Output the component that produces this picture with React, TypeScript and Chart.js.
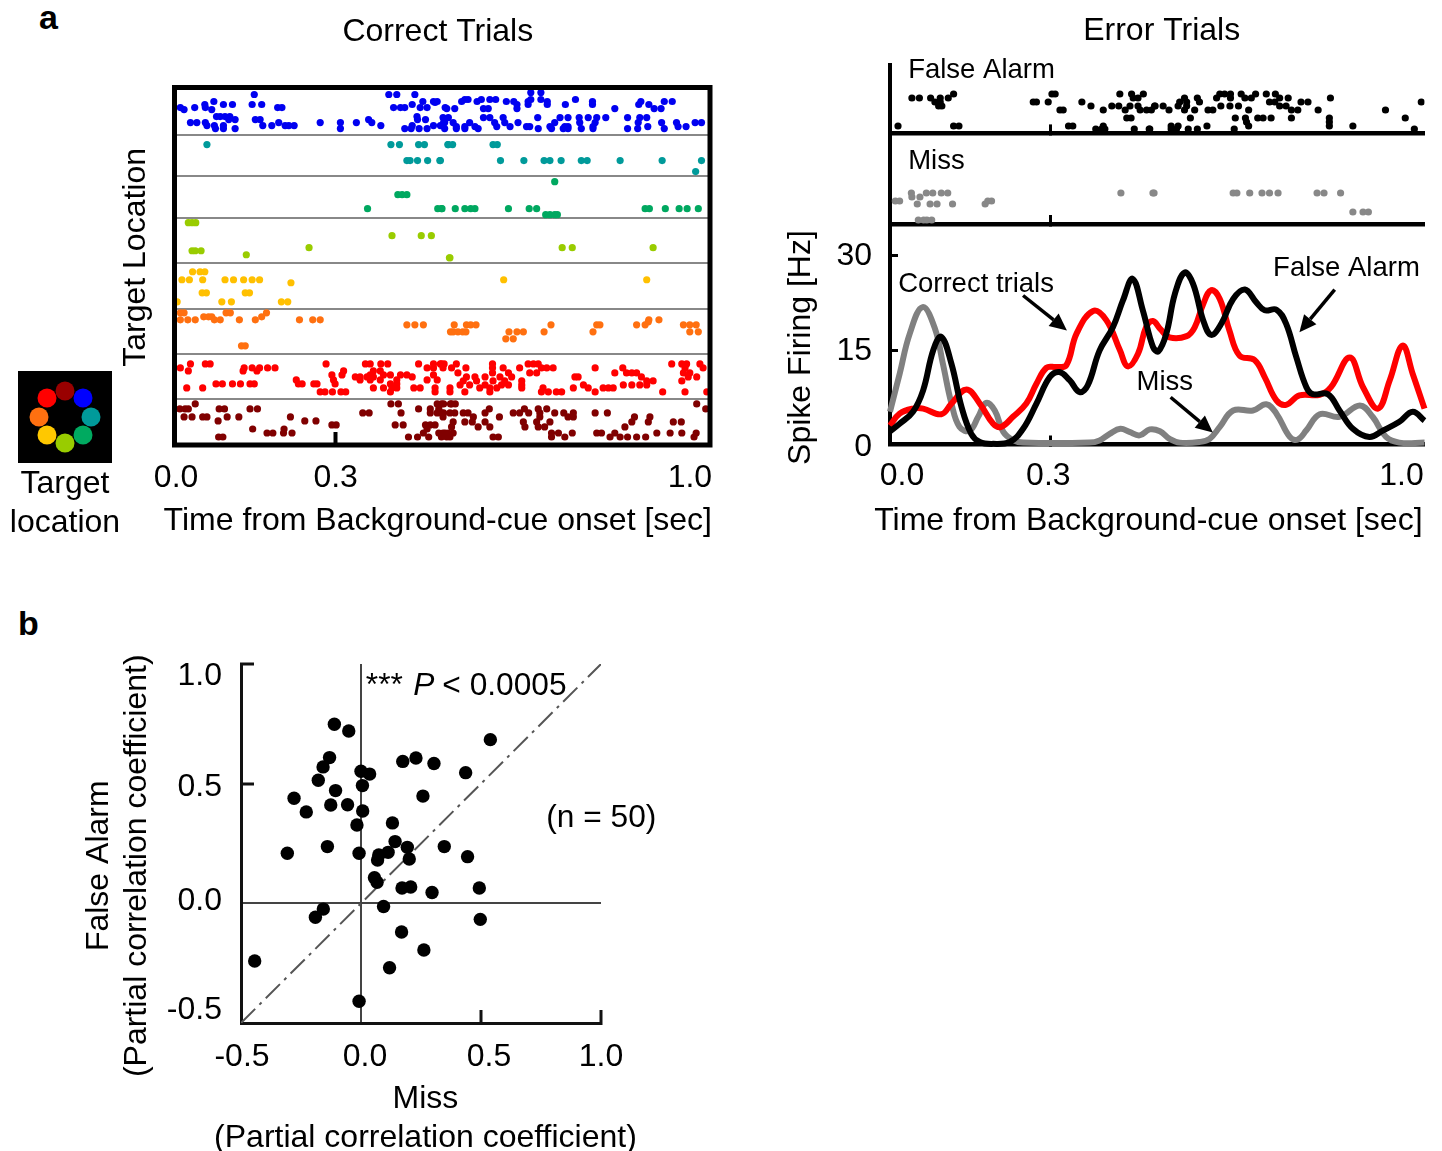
import React, { useEffect, useRef } from "react";
import { Chart, registerables } from "chart.js";

Chart.register(...registerables);

const FONT = "Liberation Sans";
const BIG = 32;
const SMALL = 27.5;
Chart.defaults.font.family = FONT;
Chart.defaults.font.size = BIG;
Chart.defaults.color = "#000";

// ---------- Panel a: correct trials raster. Each row: [trial row, spike times in ms...]
const rasterSeparators = [47, 88, 130, 175, 221, 266, 311];
const blueRows = [
  [7, 147, 400, 415, 449], [14, 71, 464, 484, 491], [15, 487],
  [17, 54, 89, 106, 143, 161, 444], [20, 8, 35, 55, 191, 199, 409, 422, 430, 459, 472, 506], [22, 15, 67],
  [29, 76, 83, 92, 101, 453], [32, 99, 111, 149, 158, 454, 469, 362],
  [35, 27, 39, 55, 193, 271, 309, 339, 368, 503], [38, 58, 72, 89, 163, 180, 205, 212, 222, 385, 444, 484, 497],
  [41, 74, 89, 111, 309, 430, 442, 457, 472],
  [5, 667, 686], [12, 543, 549, 574, 590, 601, 667, 686, 751],
  [14, 537, 566, 621, 635, 662, 698, 783, 874, 918, 933], [17, 641, 662, 698, 732, 783, 870, 889],
  [21, 509, 524, 578, 587, 641, 825, 899, 912],
  [30, 502, 512, 578, 590, 615, 680, 722, 737, 758, 775, 791, 808, 849, 872, 885],
  [35, 505, 521, 552, 599, 618, 643, 712, 759, 788, 869, 913, 941, 976, 988],
  [39, 527, 543, 562, 603, 628, 659, 665, 703, 731, 737, 784, 887, 944, 959],
  [41, 505, 527, 543, 568, 681, 706, 728, 737, 762, 784, 849, 868, 918],
];
const tealRows = [
  [57, 58, 404, 420, 456, 467, 511, 512, 520, 596, 604],
  [73, 434, 440, 454, 473, 497, 496, 610, 654, 692, 703, 724, 762, 773, 835, 914, 988],
  [84, 977],
];
const greenRows = [
  [94, 712], [107, 417, 425, 434],
  [121, 360, 492, 500, 499, 525, 543, 554, 562, 625, 664, 678, 882, 890, 920, 946, 961, 982],
  [127, 695, 703, 712, 717],
];
const limeRows = [
  [135, 23, 30, 37], [148, 406, 461, 480], [160, 250, 726, 745, 897],
  [163, 30, 36, 47], [167, 132], [170, 514, 515],
];
const yellowRows = [
  [184, 31, 45, 54], [192, 11, 25, 50, 92, 108, 127, 143, 157, 616, 885], [195, 216],
  [205, 49, 57, 130, 138], [214, 2, 86, 104, 198, 210],
];
const orangeRows = [
  [225, 8, 15, 94, 102, 170], [229, 52, 61, 67, 161], [232, 8, 22, 36, 72, 83, 119, 149, 232, 257, 271, 889, 908],
  [234, 888], [237, 434, 449, 465, 523, 546, 554, 564, 705, 791, 797, 866, 882, 954, 966, 978],
  [244, 516, 521, 530, 539, 545, 626, 641, 653, 692, 784, 966, 982], [251, 620, 634], [258, 123, 130],
];
const redRows = [
  [276, 27, 55, 64, 282, 356, 365, 385, 398, 456, 484, 497, 504], [280, 8, 128, 143, 157, 172, 186, 472, 484],
  [283, 23, 126, 152, 315, 371, 384], [287, 293, 312, 365, 390, 403, 422, 434, 484],
  [289, 337, 346, 359, 371, 444], [292, 226, 296, 346, 365, 384, 415, 472, 491],
  [296, 75, 87, 106, 121, 139, 147, 230, 237, 259, 265, 299, 415, 403],
  [300, 20, 50, 371, 390, 406, 415, 447, 459, 487], [304, 271, 280, 294, 310, 319, 487, 403],
  [276, 499, 527, 595, 662, 672, 681, 932, 951, 960, 985],
  [280, 502, 518, 545, 595, 615, 646, 687, 697, 709, 788, 840, 957, 991],
  [285, 530, 595, 625, 665, 678, 825, 847, 857, 866, 954, 966],
  [289, 546, 562, 581, 609, 631, 750, 756, 875, 979, 963], [293, 540, 565, 596, 618, 650, 885, 897, 951],
  [297, 534, 552, 581, 612, 625, 650, 766, 841, 857, 872, 885],
  [300, 515, 571, 590, 603, 650, 690, 747, 775, 803, 813, 822],
  [304, 515, 543, 590, 687, 700, 715, 725, 788, 915, 957, 998],
];
const darkRedRows = [
  [316, 36, 404, 418, 491, 503, 516], [321, 7, 17, 23, 81, 91, 139, 153, 456, 478, 494],
  [325, 351, 363, 423, 478, 491, 503], [329, 15, 30, 50, 58, 96, 118, 215], [333, 79, 242, 263],
  [337, 293, 301, 412, 427, 469, 478, 487], [341, 144, 203, 472], [345, 171, 182, 202, 218, 465, 494, 506, 512],
  [349, 80, 88, 437, 454, 475, 509],
  [316, 499, 518, 525, 979], [321, 589, 655, 681, 697, 996],
  [325, 499, 515, 524, 540, 549, 581, 634, 646, 663, 684, 712, 729, 747, 788, 811],
  [329, 502, 559, 608, 684, 737, 747, 862, 891], [334, 521, 543, 557, 581, 653, 678, 703, 857, 888, 935, 950],
  [339, 518, 568, 590, 656, 681, 693, 844],
  [345, 502, 521, 706, 719, 745, 791, 800, 825, 904, 929, 951, 978],
  [349, 499, 515, 596, 606, 706, 731, 816, 835, 849, 866, 883, 974],
];
const rasterSeries = [
  { rows: blueRows, color: "#0000f0" }, { rows: tealRows, color: "#009a9a" }, { rows: greenRows, color: "#00a860" },
  { rows: limeRows, color: "#99cc00" }, { rows: yellowRows, color: "#ffc000" }, { rows: orangeRows, color: "#ff7010" },
  { rows: redRows, color: "#ff0000" }, { rows: darkRedRows, color: "#800000" },
];

// ---------- Target wheel
const wheelX = [0, 18, 26, 18, 0, -18, -26, -18];
const wheelY = [26, 19, 0, -18, -26, -18, 0, 19];
const wheelColors = ["#990000", "#0000ff", "#009a9a", "#00aa60", "#99cc00", "#ffc800", "#ff7010", "#ff0000"];

// ---------- Panel a: error trials rasters
const falseAlarmRows = [
  [29, 119, 452, 474, 430, 309, 303, 617, 626, 637, 657, 684, 704, 721],
  [33, 41, 55, 76, 94, 109, 455, 464, 551, 575, 611, 637, 664, 676, 729, 745, 824],
  [37, 84, 94, 268, 274, 296, 359, 555, 579, 542, 710, 720, 769, 782, 994],
  [41, 91, 97, 376, 415, 428, 449, 464, 496, 511, 495, 539, 555, 619, 636, 652, 729, 741],
  [45, 324, 318, 399, 440, 468, 480, 489, 522, 551, 570, 595, 604, 671, 751, 763, 801, 927],
  [53, 443, 451, 562, 646, 665, 688, 698, 713, 751, 822, 964],
  [57, 667, 822],
  [61, 15, 119, 129, 334, 342, 399, 526, 539, 593, 671, 822, 866],
  [64, 385, 396, 402, 457, 485, 486, 526, 536, 558, 575, 644, 981],
];
const missRows = [
  [60, 40, 68, 80, 96, 108, 432, 494, 492, 642, 649, 673, 696, 710, 726, 799, 812, 843],
  [64, 41, 56], [68, 10, 18, 190, 183], [71, 51, 75, 88, 117, 178],
  [79, 866, 885, 895], [87, 53, 63, 69, 78],
];

// ---------- Panel a: spike density curves
const greyTimes = [0, 18, 37, 61, 84, 99, 115, 130, 149, 165, 180, 196, 212, 230, 249, 373, 392, 411, 431, 448, 467, 486, 505, 523, 542, 579, 598, 617, 642, 679, 704, 723, 748, 763, 779, 804, 841, 879, 903, 928, 953, 1000];
const greyRates = [5.2, 11.2, 17.6, 21.8, 18.4, 12.8, 6.5, 2.8, 2.2, 4.4, 6.6, 5.4, 2, 0.7, 0.3, 0.3, 0.65, 1.7, 2.5, 2, 1.45, 2.4, 2.1, 0.9, 0.3, 0.4, 0.9, 2.8, 5.4, 5.4, 6.4, 4.9, 1.2, 0.8, 2.25, 4.8, 4.4, 6.2, 4.4, 1.2, 0.3, 0.3];
const redTimes = [0, 18, 43, 62, 96, 115, 143, 168, 193, 208, 230, 255, 274, 293, 311, 330, 349, 380, 405, 430, 445, 464, 479, 492, 505, 523, 555, 570, 586, 601, 617, 635, 654, 682, 701, 723, 741, 766, 804, 825, 860, 885, 913, 935, 959, 978, 1000];
const redRates = [3, 4.9, 5.7, 5.7, 4.8, 6.5, 8.75, 6.5, 3.3, 2.8, 4.4, 6.5, 9.65, 12.2, 12.3, 12.6, 17.6, 21.2, 19.7, 15, 12.4, 14.4, 18.6, 19.6, 18.4, 17, 17.2, 18.6, 22.3, 24.5, 23.1, 18.1, 14.1, 13.4, 10.7, 7, 6.3, 7.8, 7.9, 9.1, 13.8, 9.1, 5.7, 10.2, 15.7, 11.2, 5.7];
const blackTimes = [0, 18, 43, 62, 81, 96, 115, 134, 152, 168, 193, 224, 249, 274, 299, 317, 336, 355, 370, 392, 417, 436, 454, 473, 492, 502, 517, 533, 551, 567, 586, 601, 620, 642, 664, 685, 701, 723, 741, 760, 779, 791, 819, 841, 866, 897, 922, 953, 978, 1000];
const blackRates = [2.1, 3.3, 5.2, 8.6, 15, 17.1, 12.8, 5.9, 1.7, 0.4, 0.1, 0.4, 2.5, 6.5, 10.7, 11.5, 10.2, 8.3, 9.4, 14.9, 18.6, 22.9, 26.3, 21.3, 15.5, 14.8, 17.6, 23.9, 27.3, 25.5, 19.7, 17.4, 19.2, 23.1, 24.6, 22.6, 21.3, 21.4, 19.2, 13.9, 9.1, 8, 8, 5.4, 2.5, 1.2, 2.2, 3.6, 5.2, 3.8];

// ---------- Panel b
const missCoef = [-0.111, -0.051, 0.539, -0.131, -0.158, 0.174, 0.229, 0.304, 0.436, 0, 0.036, -0.178, 0.006, -0.106, -0.279, 0.258, -0.126, -0.056, -0.228, 0.007, -0.017, 0.131, 0.142, -0.307, -0.14, -0.008, 0.074, 0.069, 0.113, 0.193, 0.201, 0.347, 0.444, 0.056, 0.067, 0.171, 0.207, 0.296, 0.493, 0.094, -0.157, -0.19, 0.497, 0.169, 0.262, -0.443, 0.119, -0.008];
const falseAlarmCoef = [0.748, 0.72, 0.684, 0.609, 0.57, 0.593, 0.607, 0.584, 0.546, 0.552, 0.54, 0.514, 0.492, 0.471, 0.439, 0.448, 0.411, 0.412, 0.382, 0.386, 0.327, 0.336, 0.258, 0.209, 0.237, 0.209, 0.202, 0.181, 0.213, 0.234, 0.185, 0.237, 0.195, 0.107, 0.088, 0.064, 0.068, 0.045, 0.064, -0.013, -0.024, -0.058, -0.067, -0.12, -0.195, -0.241, -0.269, -0.409];

const zip = (xs: number[], ys: number[]) => xs.map((x, i) => ({ x, y: ys[i] }));
const flatten = (rows: number[][]) => rows.flatMap(([row, ...times]) => times.map((t) => ({ x: t, y: row })));
const setTicks = (values: number[]) => (s: any) => { s.ticks = values.map((value) => ({ value })); };
const noPad = (s: any) => { s.paddingTop = 0; s.paddingBottom = 0; s.paddingLeft = 0; s.paddingRight = 0; };
const fixW = (w: number) => (s: any) => { s.width = w; noPad(s); };
const fixH = (h: number) => (s: any) => { s.height = h; noPad(s); };
const secLabel = (v: any) => (Number(v) / 1000).toFixed(1);
const tickFont = { size: BIG };

// Moves the library's own tick labels a little, as in the figure
const nudge = (map: Record<string, number[][]>) => ({
  id: "nudge",
  beforeDraw(chart: any) {
    Object.keys(map).forEach((id) => {
      chart.scales[id].getLabelItems().forEach((it: any, i: number) => {
        if (it._moved || !map[id][i]) return;
        it._moved = true;
        it.options.translation[0] += map[id][i][0];
        it.options.translation[1] += map[id][i][1];
      });
    });
  },
});

const notes = (
  texts: { text: string; x: number; y: number; font: string; align?: CanvasTextAlign; base?: CanvasTextBaseline }[],
  arrows: number[][] = []
) => ({
  id: "notes",
  afterDatasetsDraw(chart: any) {
    const { ctx, scales } = chart;
    ctx.save();
    ctx.fillStyle = "#000";
    ctx.strokeStyle = "#000";
    texts.forEach((t) => {
      ctx.font = t.font;
      ctx.textAlign = t.align || "left";
      ctx.textBaseline = t.base || "middle";
      ctx.fillText(t.text, scales.x.getPixelForValue(t.x), scales.y.getPixelForValue(t.y));
    });
    arrows.forEach(([a, b, c, d]) => {
      const x1 = scales.x.getPixelForValue(a), y1 = scales.y.getPixelForValue(b);
      const x2 = scales.x.getPixelForValue(c), y2 = scales.y.getPixelForValue(d);
      const ang = Math.atan2(y2 - y1, x2 - x1);
      const L = 17, W = 8;
      const bx = x2 - L * Math.cos(ang), by = y2 - L * Math.sin(ang);
      ctx.lineWidth = 3.5;
      ctx.beginPath(); ctx.moveTo(x1, y1); ctx.lineTo(bx, by); ctx.stroke();
      ctx.beginPath(); ctx.moveTo(x2, y2);
      ctx.lineTo(bx - W * Math.sin(ang), by + W * Math.cos(ang));
      ctx.lineTo(bx + W * Math.sin(ang), by - W * Math.cos(ang));
      ctx.closePath(); ctx.fill();
    });
    ctx.restore();
  },
});

const frame = {
  id: "frame",
  afterDatasetsDraw(chart: any) {
    const { ctx, chartArea: a } = chart;
    ctx.save();
    ctx.strokeStyle = "#000";
    ctx.lineWidth = 5;
    ctx.strokeRect(a.left, a.top, a.right - a.left, a.bottom - a.top);
    ctx.restore();
  },
};

const blackBox = {
  id: "blackBox",
  beforeDatasetsDraw(chart: any) {
    const { ctx, chartArea: a } = chart;
    ctx.save();
    ctx.fillStyle = "#000";
    ctx.fillRect(a.left, a.top, a.right - a.left, a.bottom - a.top);
    ctx.restore();
  },
};

const basePlugins = { legend: { display: false }, tooltip: { enabled: false } };
const base = { responsive: false, animation: false as const, events: [] as any[] };

const rasterSet = (rows: number[][], color: string, r = 3.6) => ({
  data: flatten(rows), pointRadius: r, pointBackgroundColor: color, pointBorderWidth: 0, showLine: false,
});

const onlyAt = (v: number, color = "#000") => (c: any) => (c.tick && c.tick.value === v ? color : "transparent");

const rasterConfig = (): any => ({
  type: "scatter",
  data: { datasets: rasterSeries.map((s) => rasterSet(s.rows, s.color)) },
  plugins: [frame, nudge({ x: [[0, 0], [0, 0], [-18, 0]] })],
  options: {
    ...base,
    layout: { autoPadding: false, padding: { right: 66 } },
    plugins: {
      ...basePlugins,
      title: { display: true, fullSize: false, text: "Correct Trials ", font: { size: BIG, weight: "normal" }, padding: { top: 13, bottom: 36.1 } },
    },
    scales: {
      x: {
        type: "linear", min: -3, max: 1004, afterFit: fixH(115), afterBuildTicks: setTicks([0, 300, 1000]),
        border: { display: false },
        grid: { drawOnChartArea: false, tickLength: -13, tickWidth: 4, tickColor: onlyAt(300) },
        ticks: { autoSkip: false, maxRotation: 0, font: tickFont, padding: 27, callback: secLabel },
        title: { display: true, text: "Time from Background-cue onset [sec] ", font: tickFont, padding: { top: 0, bottom: 20 } },
      },
      y: {
        type: "linear", reverse: true, min: 0, max: 357, afterFit: fixW(74.5), afterBuildTicks: setTicks(rasterSeparators),
        border: { display: false },
        grid: { color: "#888", lineWidth: 2, drawTicks: false },
        ticks: { display: false, autoSkip: false },
        title: { display: true, text: "  Target Location", font: tickFont, padding: { top: 17, bottom: 0 } },
      },
    },
  },
});

const wheelConfig = (): any => ({
  type: "scatter",
  data: { datasets: [{ data: zip(wheelX, wheelY), pointRadius: 9.5, pointBackgroundColor: wheelColors, pointBorderWidth: 0 }] },
  plugins: [blackBox],
  options: {
    ...base,
    layout: { autoPadding: false, padding: { left: 18, right: 18, top: 11 } },
    plugins: basePlugins,
    scales: {
      x: {
        type: "linear", min: -47, max: 47, afterFit: fixH(82), border: { display: false }, grid: { display: false },
        ticks: { display: false },
        title: { display: true, text: ["Target", "location"], font: tickFont, padding: { top: 0, bottom: 3 } },
      },
      y: { type: "linear", min: -46, max: 46, display: false },
    },
  },
});

const errorRaster = (rows: number[][], color: string, yMax: number, bottomH: number, leftLabel: string, labelY: number, title?: string, padTop = 0): any => ({
  type: "scatter",
  data: { datasets: [rasterSet(rows, color)] },
  plugins: [notes([{ text: leftLabel, x: 34, y: labelY, font: `${SMALL}px "${FONT}"` }])],
  options: {
    ...base,
    layout: { autoPadding: false, padding: { right: 17.5, top: padTop } },
    plugins: {
      ...basePlugins,
      title: title
        ? { display: true, fullSize: false, text: title, font: { size: BIG, weight: "normal" }, padding: { top: 12, bottom: 14.6 } }
        : { display: false },
    },
    scales: {
      x: {
        type: "linear", min: 0, max: 1000, afterFit: fixH(bottomH), afterBuildTicks: setTicks([300]),
        border: { color: "#000", width: 4.5 },
        grid: { drawOnChartArea: false, tickLength: -9, tickWidth: 3, tickColor: "#000" },
        ticks: { display: false, autoSkip: false },
      },
      y: {
        type: "linear", reverse: true, min: 0, max: yMax, afterFit: fixW(8),
        border: { color: "#000", width: 4 }, grid: { display: false }, ticks: { display: false },
      },
    },
  },
});

const curve = (times: number[], rates: number[], color: string) => ({
  data: zip(times, rates), borderColor: color, borderWidth: 6, pointRadius: 0, tension: 0.4, clip: false, fill: false,
});

const psthConfig = (): any => ({
  type: "line",
  data: {
    datasets: [
      curve(blackTimes, blackRates, "#000"),
      curve(redTimes, redRates, "#ff0000"),
      curve(greyTimes, greyRates, "#808080"),
    ],
  },
  plugins: [
    nudge({ x: [[12, 0], [-2, 0], [-23, 0]], y: [[0, 3], [0, 1], [0, 1]] }),
    notes(
      [
        { text: "Correct trials", x: 161, y: 25.44, font: `${SMALL}px "${FONT}"`, align: "center" },
        { text: "False Alarm", x: 854, y: 27.94, font: `${SMALL}px "${FONT}"`, align: "center" },
        { text: "Miss", x: 514, y: 9.84, font: `${SMALL}px "${FONT}"`, align: "center" },
      ],
      [[249, 23.65, 331, 18.1], [832, 24.6, 766, 17.8], [525, 7.5, 604, 1.9]]
    ),
  ],
  options: {
    ...base,
    layout: { autoPadding: false, padding: { right: 17.5, top: 9 } },
    plugins: basePlugins,
    scales: {
      x: {
        type: "linear", min: 0, max: 1000, afterFit: fixH(115.5), afterBuildTicks: setTicks([0, 300, 1000]),
        border: { color: "#000", width: 4.5 },
        grid: { drawOnChartArea: false, tickLength: -9, tickWidth: 3, tickColor: onlyAt(300) },
        ticks: { autoSkip: false, maxRotation: 0, font: tickFont, padding: 21.5, callback: secLabel },
        title: { display: true, text: "Time from Background-cue onset [sec]  ", font: tickFont, padding: { top: 0, bottom: 20 } },
      },
      y: {
        type: "linear", min: 0, max: 35, afterFit: fixW(110), afterBuildTicks: setTicks([0, 15, 30]),
        border: { color: "#000", width: 4 },
        grid: { drawOnChartArea: false, tickLength: -8, tickWidth: 3, tickColor: (c: any) => (c.tick && c.tick.value > 0 ? "#000" : "transparent") },
        ticks: { autoSkip: false, font: tickFont, padding: 26 },
        title: { display: true, text: "Spike Firing [Hz]   ", font: tickFont, padding: { top: 2, bottom: 0 } },
      },
    },
  },
});

const scatterFont = `31.7px "${FONT}"`;
const scatterConfig = (): any => ({
  type: "scatter",
  data: {
    datasets: [
      { data: zip(missCoef, falseAlarmCoef), pointRadius: 6.7, pointBackgroundColor: "#000", pointBorderWidth: 0, showLine: false },
      {
        data: zip([-0.5, 1], [-0.5, 1]), showLine: true, pointRadius: 0, borderColor: "#555", borderWidth: 2,
        borderDash: [20, 6, 3, 6],
      },
    ],
  },
  plugins: [
    nudge({ x: [[1, 0], [4, 0], [8, 0], [0, 0]], y: [[2, -13], [2, -2], [2, 4], [2, 12]] }),
    notes([
      { text: "***", x: 0.02, y: 0.869, font: scatterFont, base: "alphabetic" },
      { text: "P", x: 0.218, y: 0.869, font: `italic ${scatterFont}`, base: "alphabetic" },
      { text: "< 0.0005", x: 0.339, y: 0.869, font: scatterFont, base: "alphabetic" },
      { text: "(n = 50)", x: 0.772, y: 0.318, font: scatterFont, base: "alphabetic" },
    ]),
  ],
  options: {
    ...base,
    layout: { autoPadding: false, padding: { right: 99, top: 14 } },
    plugins: basePlugins,
    scales: {
      x: {
        type: "linear", min: -0.5, max: 1, afterFit: fixH(147), afterBuildTicks: setTicks([-0.5, 0, 0.5, 1]),
        border: { color: "#111", width: 3 },
        grid: {
          color: (c: any) => (c.tick && c.tick.value === 0 ? "#444" : "transparent"), lineWidth: 2, tickLength: -13, tickWidth: 3,
          tickColor: (c: any) => (c.tick && c.tick.value >= 0.5 ? "#111" : "transparent"),
        },
        ticks: { autoSkip: false, maxRotation: 0, font: tickFont, padding: 28, callback: (v: any) => Number(v).toFixed(1) },
        title: { display: true, text: [" Miss", " (Partial correlation coefficient)"], font: tickFont, padding: { top: 0, bottom: 13 } },
      },
      y: {
        type: "linear", min: -0.5, max: 1, afterFit: fixW(161), afterBuildTicks: setTicks([-0.5, 0, 0.5, 1]),
        border: { color: "#111", width: 3 },
        grid: {
          color: (c: any) => (c.tick && c.tick.value === 0 ? "#444" : "transparent"), lineWidth: 2, tickLength: -13, tickWidth: 3,
          tickColor: (c: any) => (c.tick && c.tick.value >= 0.5 ? "#111" : "transparent"),
        },
        ticks: { autoSkip: false, font: tickFont, padding: 34, callback: (v: any) => Number(v).toFixed(1) },
        title: { display: true, text: ["False Alarm     ", "(Partial correlation coefficient)     "], font: tickFont, padding: { top: 0, bottom: 0 } },
      },
    },
  },
});

function Panel({ make, left, top, width, height }: { make: () => any; left: number; top: number; width: number; height: number }) {
  const ref = useRef<HTMLCanvasElement>(null);
  useEffect(() => {
    const canvas = ref.current as HTMLCanvasElement;
    // Axis titles here are wider than their axes: keep them at full width, not squeezed
    const ctx = canvas.getContext("2d") as any;
    const draw = CanvasRenderingContext2D.prototype.fillText;
    ctx.fillText = (t: string, x: number, y: number) => draw.call(ctx, t, x, y);
    const chart = new Chart(canvas, make());
    return () => chart.destroy();
  }, []);
  return <canvas ref={ref} width={width} height={height} style={{ position: "absolute", left, top, width, height }} />;
}

const letter = (left: number, top: number): React.CSSProperties => ({
  position: "absolute", left, top, font: `bold 34px "${FONT}"`, lineHeight: "40px", color: "#000",
});

export default function App() {
  return (
    <div style={{ position: "absolute", left: 0, top: 0, width: 1442, height: 1151, overflow: "hidden", background: "#fff" }}>
      <Panel make={rasterConfig} left={100} top={0} width={676} height={560} />
      <Panel make={wheelConfig} left={0} top={360} width={130} height={185} />
      <Panel make={() => errorRaster(falseAlarmRows, "#000", 68.4, 6.6, "False Alarm", 5, " Error Trials")} left={882} top={0} width={560} height={140} />
      <Panel make={() => errorRaster(missRows, "#888", 91, 6, "Miss", 28, undefined, 3)} left={882} top={130} width={560} height={100} />
      <Panel make={psthConfig} left={780} top={215} width={662} height={345} />
      <Panel make={scatterConfig} left={80} top={650} width={620} height={520} />
      <div style={letter(39, -3)}>a</div>
      <div style={letter(18, 603)}>b</div>
    </div>
  );
}
